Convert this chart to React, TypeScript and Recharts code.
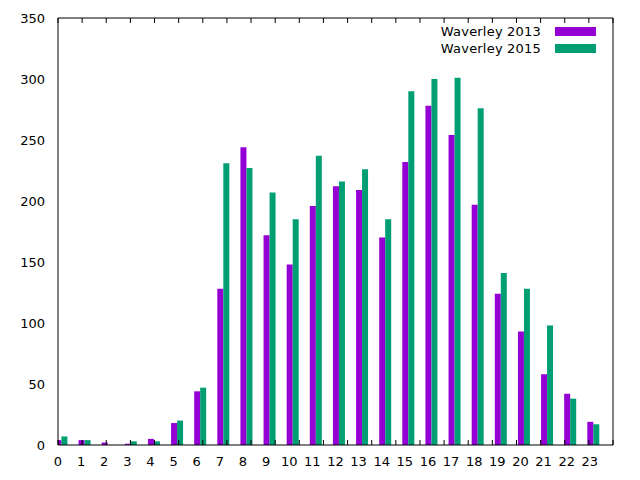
import { BarChart, Bar, XAxis, YAxis, Rectangle } from "recharts"

const hours = [0, 1, 2, 3, 4, 5, 6, 7, 8, 9, 10, 11, 12, 13, 14, 15, 16, 17, 18, 19, 20, 21, 22, 23]
const waverley2013 = [4, 4, 2, 1, 5, 18, 44, 128, 244, 172, 148, 196, 212, 209, 170, 232, 278, 254, 197, 124, 93, 58, 42, 19]
const waverley2015 = [7, 4, 0, 3, 3, 20, 47, 231, 227, 207, 185, 237, 216, 226, 185, 290, 300, 301, 276, 141, 128, 98, 38, 17]
const seriesNames = ["Waverley 2013", "Waverley 2015"]
const seriesColors = ["#9400d3", "#009e73"]
const yTicks = [0, 50, 100, 150, 200, 250, 300, 350]

const data = hours.map((h, i) => ({ hour: h, w2013: waverley2013[i], w2015: waverley2015[i] }))

const font = "'DejaVu Sans', sans-serif"
const tickStyle = { fontSize: 13, fill: "#000", fontFamily: font }
const noLabel = () => <g />

// gnuplot puts the first box on the tick, the second one just right of it
const ShiftedBar = (props: any) => <Rectangle {...props} x={props.x + props.width / 2} />

export default function App() {
  return (
    <div style={{ position: "absolute", left: 0, top: 0, width: 640, height: 480, background: "#fff" }}>
      <BarChart
        width={640}
        height={480}
        data={data}
        margin={{ top: 18, right: 27, bottom: 0, left: 0 }}
        barGap={0}
      >
        <XAxis
          xAxisId="b"
          dataKey="hour"
          type="number"
          domain={[0, 24]}
          allowDataOverflow
          ticks={hours}
          interval={0}
          height={35}
          tickSize={0}
          tickMargin={12}
          tickLine={false}
          axisLine={{ stroke: "#000" }}
          tick={tickStyle}
        />
        <XAxis
          xAxisId="bi"
          type="number"
          domain={[0, 24]}
          ticks={hours}
          interval={0}
          mirror
          tickSize={5}
          axisLine={false}
          tickLine={{ stroke: "#000" }}
          tick={noLabel}
        />
        <XAxis
          xAxisId="t"
          orientation="top"
          type="number"
          domain={[0, 24]}
          ticks={hours}
          interval={0}
          mirror
          tickSize={5}
          axisLine={{ stroke: "#000" }}
          tickLine={{ stroke: "#000" }}
          tick={noLabel}
        />
        <YAxis
          yAxisId="l"
          type="number"
          domain={[0, 350]}
          ticks={yTicks}
          interval={0}
          width={58}
          tickSize={0}
          tickMargin={13}
          tickLine={false}
          axisLine={{ stroke: "#000" }}
          tick={tickStyle}
        />
        <YAxis
          yAxisId="li"
          type="number"
          domain={[0, 350]}
          ticks={yTicks}
          interval={0}
          mirror
          tickSize={5}
          axisLine={false}
          tickLine={{ stroke: "#000" }}
          tick={noLabel}
        />
        <YAxis
          yAxisId="r"
          orientation="right"
          type="number"
          domain={[0, 350]}
          ticks={yTicks}
          interval={0}
          mirror
          tickSize={5}
          axisLine={{ stroke: "#000" }}
          tickLine={{ stroke: "#000" }}
          tick={noLabel}
        />
        <Bar xAxisId="b" yAxisId="l" dataKey="w2013" name={seriesNames[0]} fill={seriesColors[0]} barSize={6} shape={ShiftedBar} isAnimationActive={false} />
        <Bar xAxisId="b" yAxisId="l" dataKey="w2015" name={seriesNames[1]} fill={seriesColors[1]} barSize={6} shape={ShiftedBar} isAnimationActive={false} />
      </BarChart>
      <div style={{ position: "absolute", top: 23, left: 380, width: 216, fontFamily: font, fontSize: 13, letterSpacing: 0.2 }}>
        {seriesNames.map((name, i) => (
          <div key={name} style={{ display: "flex", alignItems: "center", justifyContent: "flex-end", height: 17 }}>
            <span style={{ marginRight: 14 }}>{name}</span>
            <span style={{ display: "inline-block", width: 41, height: 9, background: seriesColors[i] }} />
          </div>
        ))}
      </div>
    </div>
  )
}
